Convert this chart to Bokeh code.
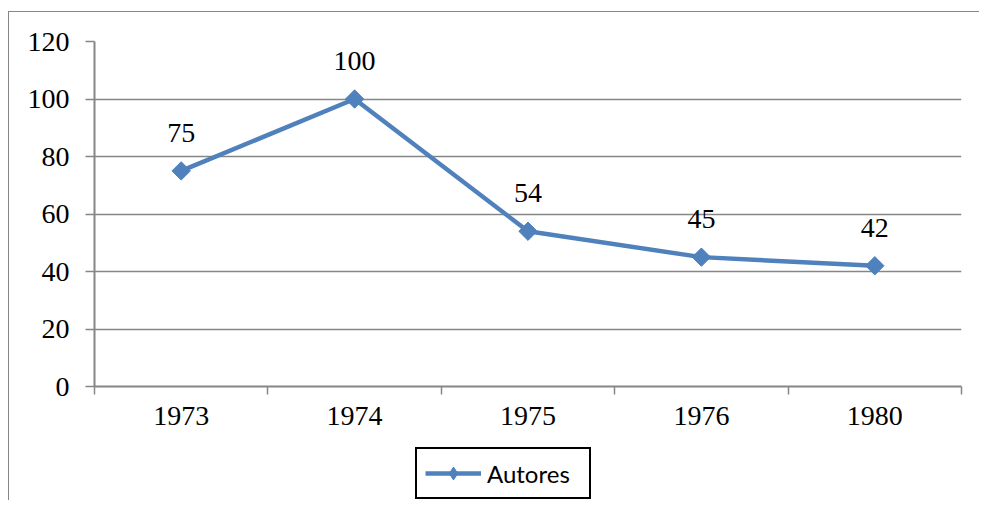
import math
from bokeh.plotting import figure
from bokeh.layouts import column
from bokeh.models import Range1d, FixedTicker, Legend, LegendItem, ColumnDataSource
from bokeh.core.properties import value
from bokeh.embed import file_html
from bokeh.resources import INLINE

years = ["1973", "1974", "1975", "1976", "1980"]
autores = [75, 100, 54, 45, 42]
y_ticks = [0, 20, 40, 60, 80, 100, 120]
series_name = "Autores"

xpos = [i + 0.5 for i in range(len(years))]
src = ColumnDataSource(dict(x=xpos, y=autores, lab=[str(v) for v in autores]))

GRAY = "#868686"
BLUE = "#4F81BD"
W = 970

p = figure(width=W, height=430, output_backend="svg", toolbar_location=None,
           x_range=Range1d(0, len(years)), y_range=Range1d(0, 120),
           min_border_left=85, min_border_top=29, min_border_right=18, min_border_bottom=56)
p.outline_line_color = None
p.background_fill_color = "white"
p.border_fill_color = "white"

# axes
p.xaxis.ticker = FixedTicker(ticks=xpos, minor_ticks=list(range(len(years) + 1)))
p.xaxis.major_label_overrides = {x: y for x, y in zip(xpos, years)}
p.xaxis.major_tick_out = 0
p.xaxis.major_tick_in = 0
p.xaxis.minor_tick_out = 8
p.xaxis.minor_tick_in = 0
p.xaxis.minor_tick_line_color = GRAY
p.xaxis.minor_tick_line_width = 1.5
p.xaxis.axis_line_color = GRAY
p.xaxis.axis_line_width = 2
p.xaxis.major_label_standoff = 12

p.yaxis.ticker = FixedTicker(ticks=y_ticks)
p.yaxis.major_tick_out = 9
p.yaxis.major_tick_in = 0
p.yaxis.minor_tick_line_color = None
p.yaxis.major_tick_line_color = GRAY
p.yaxis.major_tick_line_width = 1.5
p.yaxis.axis_line_color = GRAY
p.yaxis.axis_line_width = 2
p.yaxis.major_label_standoff = 16

for ax in (p.xaxis, p.yaxis):
    ax.major_label_text_font = "Liberation Serif"
    ax.major_label_text_font_size = "28px"
    ax.major_label_text_color = "black"

p.xgrid.grid_line_color = None
p.ygrid.ticker = FixedTicker(ticks=y_ticks[1:])
p.ygrid.grid_line_color = GRAY
p.ygrid.grid_line_width = 1.5

p.line("x", "y", source=src, line_color=BLUE, line_width=4.5)
p.scatter("x", "y", source=src, marker="square", angle=math.pi / 4, size=13,
          fill_color=BLUE, line_color=BLUE)

p.text("x", "y", text="lab", source=src, y_offset=-38, text_align="center", text_baseline="middle",
       text_font=value("Liberation Serif"), text_font_size="28px", text_color="black")

# legend strip below the chart (hidden copies of the series supply the legend glyphs)
p2 = figure(width=W, height=58, output_backend="svg", toolbar_location=None,
            x_range=Range1d(0, 1), y_range=Range1d(0, 1),
            x_axis_location=None, y_axis_location=None, min_border=0)
p2.outline_line_color = None
p2.grid.grid_line_color = None
p2.border_fill_color = "white"
l_ln = p2.line("x", "y", source=src, line_color=BLUE, line_width=4.5, visible=False)
l_mk = p2.scatter("x", "y", source=src, marker="diamond", size=20,
                  fill_color=BLUE, line_color=BLUE, visible=False)

legend = Legend(items=[LegendItem(label=series_name, renderers=[l_ln, l_mk])],
                location=(321, 1), orientation="horizontal",
                border_line_color="black", border_line_width=2, border_line_alpha=1,
                label_text_font="Lato", label_text_font_size="24px", label_text_color="black",
                glyph_width=56, glyph_height=32, label_standoff=6, label_width=94,
                padding=8, margin=0, background_fill_color="white",
                inactive_fill_alpha=0)
p2.add_layout(legend)

layout = column(p, p2, spacing=0, margin=(11, 0, 0, 8),
                styles={"border-left": f"1px solid {GRAY}", "border-top": f"1px solid {GRAY}"})

open("out.html", "w").write(file_html(layout, INLINE))
